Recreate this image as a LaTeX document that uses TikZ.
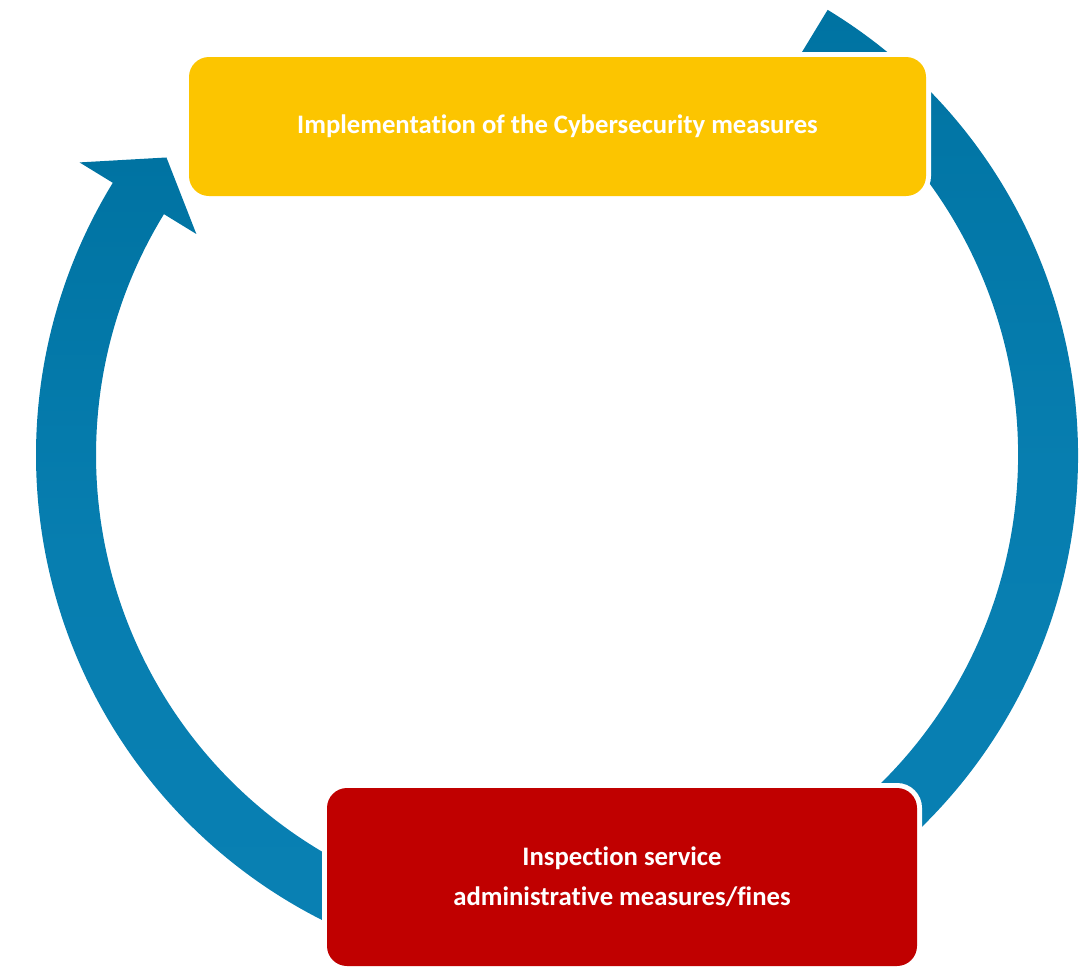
\documentclass[tikz,border=0pt]{standalone}
\usepackage{fontspec}
\setmainfont{Carlito}[Ligatures=NoCommon]
\definecolor{ringtop}{HTML}{0073A2}
\definecolor{ringmid}{HTML}{077EB0}
\definecolor{ringbot}{HTML}{0980B3}
\definecolor{stageyellow}{HTML}{FCC500}
\definecolor{stagered}{HTML}{C00000}
\tikzset{
  ring/.style={top color=ringtop, bottom color=ringbot, middle color=ringmid, draw=none},
  stage/.style={rounded corners=20pt, inner sep=0pt, align=center, text=white,
    font=\bfseries\fontsize{26.7}{40}\selectfont,
    preaction={draw=white, line width=10pt}},
}
\begin{document}
\begin{tikzpicture}[x=1pt,y=1pt]
\useasboundingbox (0,0) rectangle (1080,-967);
% cycle ring: two thick circular arrows around a common centre
\begin{scope}[shift={(557,-455)}]
  % left arc, rising towards the implementation box
  \shade[ring] (250:521) arc[start angle=250, end angle=148.5, radius=521]
    -- (148.5:560) -- (142.7:491) -- (148.5:423) -- (148.5:461)
    arc[start angle=148.5, end angle=250, radius=461] -- cycle;
  % right arc, descending towards the inspection box
  \shade[ring] (58.7:521) arc[start angle=58.7, end angle=-65, radius=521]
    -- (-65:461) arc[start angle=-65, end angle=58.7, radius=461] -- cycle;
\end{scope}
% stages
\node[stage, fill=stageyellow, minimum width=737pt, minimum height=139pt]
  (impl) at (557.5,-126.5) {Implementation of the Cybersecurity measures};
\node[stage, fill=stagered, minimum width=590pt, minimum height=178pt]
  (insp) at (622,-877) {Inspection service\\administrative measures/fines};
\end{tikzpicture}
\end{document}
